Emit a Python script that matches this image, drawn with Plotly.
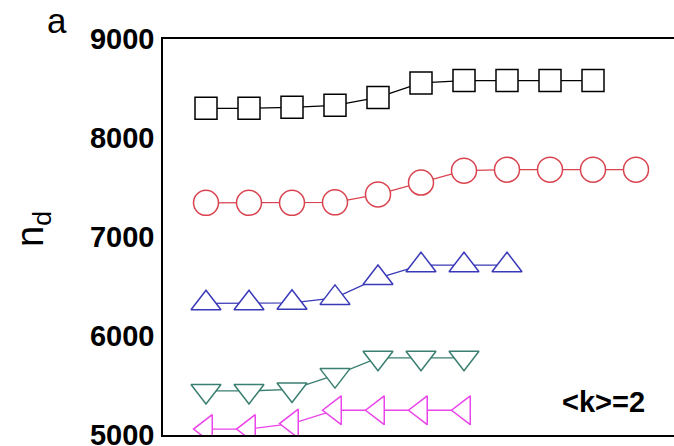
import plotly.graph_objects as go

x_idx = [1, 2, 3, 4, 5, 6, 7, 8, 9, 10, 11]

sq_vals = [8300, 8300, 8310, 8330, 8410, 8556, 8580, 8580, 8580, 8580]
ci_vals = [7345, 7345, 7345, 7350, 7430, 7550, 7670, 7680, 7680, 7680, 7680]
tu_vals = [6330, 6330, 6335, 6385, 6585, 6715, 6715, 6715]
td_vals = [5445, 5445, 5460, 5605, 5780, 5780, 5780]
tl_vals = [5060, 5060, 5115, 5250, 5250, 5250, 5250]

y_ticks = [5000, 6000, 7000, 8000, 9000]

series = [
    (sq_vals, "square", "#000000", 22),
    (ci_vals, "circle", "#d9434f", 25),
    (tu_vals, "triangle-up", "#3a3ab8", 26),
    (td_vals, "triangle-down", "#3a7f70", 26),
    (tl_vals, "triangle-left", "#ea44ea", 25),
]

fig = go.Figure()
for vals, sym, col, sz in series:
    fig.add_trace(go.Scatter(
        x=x_idx[:len(vals)], y=vals, mode="lines+markers",
        line=dict(color=col, width=1.3),
        marker=dict(symbol=sym, size=sz, color="white",
                    line=dict(color=col, width=1.5)),
        cliponaxis=True, showlegend=False,
    ))

# plot area runs past the right edge of the window, as in the reference
fig.update_layout(
    width=690, height=446,
    margin=dict(l=163, r=0, t=39, b=11, autoexpand=False),
    paper_bgcolor="white", plot_bgcolor="white",
    xaxis=dict(range=[0, 527 / 43.0], showgrid=False, zeroline=False,
               showticklabels=False, ticks="", showline=True,
               automargin=False,
               linecolor="black", linewidth=1.5, mirror=True),
    yaxis=dict(range=[5000, 9000], tickvals=y_ticks,
               ticktext=[str(v) for v in y_ticks],
               showgrid=False, zeroline=False, ticks="",
               automargin=False,
               showline=True, linecolor="black", linewidth=1.5,
               ticklabelstandoff=1, ticklabeloverflow="allow",
               tickfont=dict(family="Liberation Sans, Arial", size=29,
                             color="black", weight="bold")),
    annotations=[
        dict(text="n<sub>d</sub>", xref="paper", yref="paper",
             x=0, y=0.5, xanchor="center", yanchor="middle",
             xshift=-130, yshift=8, textangle=-90, showarrow=False,
             font=dict(family="Liberation Sans, Arial", size=38,
                       color="black")),
        dict(text="a", xref="paper", yref="paper", x=0, y=1,
             xanchor="center", yanchor="middle", xshift=-106, yshift=19,
             showarrow=False,
             font=dict(family="Liberation Sans, Arial", size=35,
                       color="black")),
        dict(text="&lt;k&gt;=2", xref="paper", yref="paper", x=0, y=0,
             xanchor="center", yanchor="middle", xshift=440, yshift=33,
             showarrow=False,
             font=dict(family="Liberation Sans, Arial", size=29,
                       color="black", weight="bold")),
    ],
)

fig.write_html("out.html", config={"displayModeBar": False},
               post_script="document.body.style.margin='0';"
                           "document.body.style.overflow='hidden';")
